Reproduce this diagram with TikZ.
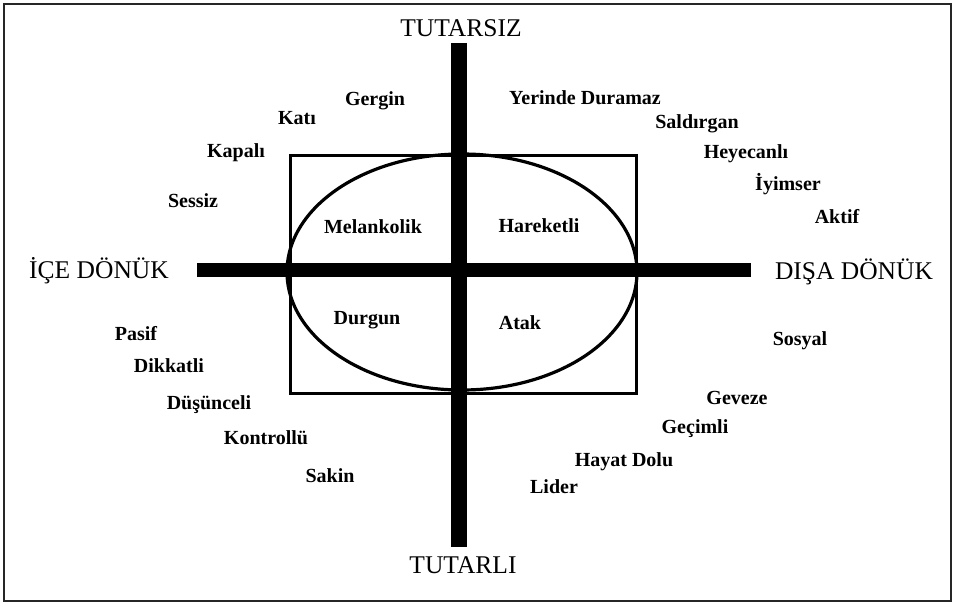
\documentclass[tikz,border=0pt]{standalone}
\usepackage{fontspec}
\setmainfont{Liberation Serif}
\tikzset{
  axislabel/.style={font=\fontsize{25.5}{28}\selectfont, inner sep=0pt},
  trait/.style={font=\fontsize{20}{22}\selectfont\bfseries, inner sep=0pt},
  bar/.style={fill=black, draw=none}
}
\begin{document}
\begin{tikzpicture}[x=1pt,y=-1pt]
 \useasboundingbox (0,0) rectangle (955,605);
 \draw[line width=1.5pt, black!85] (4,4) rectangle (951,601);
 % box and ellipse
 \draw[line width=3pt] (290,155) rectangle (636,393);
 \draw[line width=3.2pt] (462,272) ellipse [x radius=175, y radius=118];
 % axes
 \fill[bar] (197,263) rectangle (751,277);
 \fill[bar] (451,43) rectangle (467,547);
 \node[axislabel] (ust) at (461,28) {TUTARSIZ};
 \node[axislabel] (alt) at (463,565) {TUTARLI};
 \node[axislabel] (sol) at (99,271) {İÇE DÖNÜK};
 \node[axislabel] (sag) at (854,272) {DIŞA DÖNÜK};
 % quadrants
 \node[trait] (melankolik) at (373,227) {Melankolik};
 \node[trait] (hareketli) at (539,226) {Hareketli};
 \node[trait] (durgun) at (367,320) {Durgun};
 \node[trait] (atak) at (520,323) {Atak};
 % traits around
 \foreach \n/\x/\y/\t in {gergin/375/101/Gergin, kati/297/118/Katı, kapali/236/153/Kapalı,
   sessiz/193/201/Sessiz, yerinde/585/98/Yerinde Duramaz, saldirgan/697/124/Saldırgan,
   heyecanli/746/154/Heyecanlı, iyimser/788/184/İyimser, aktif/837/217/Aktif,
   pasif/136/334/Pasif, dikkatli/169/366/Dikkatli, dusunceli/209/405/Düşünceli,
   kontrollu/266/438/Kontrollü, sakin/330/476/Sakin, sosyal/800/341/Sosyal,
   geveze/737/398/Geveze, gecimli/695/429/Geçimli, hayat/624/462/Hayat Dolu,
   lider/554/487/Lider}
   \node[trait] (\n) at (\x,\y) {\t};
\end{tikzpicture}
\end{document}
